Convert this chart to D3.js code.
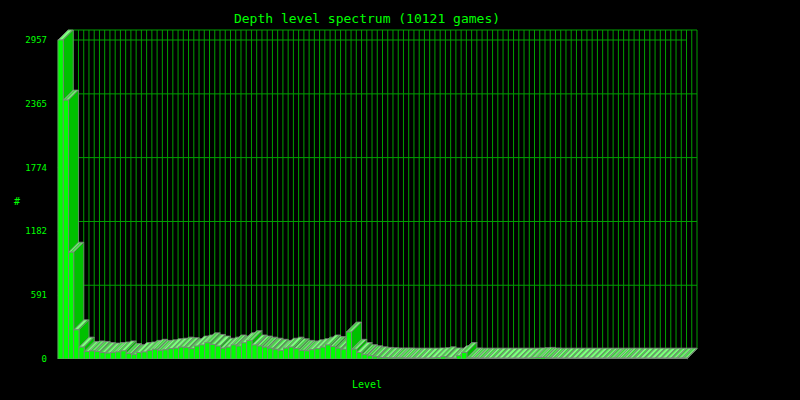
<!DOCTYPE html>
<html lang="en">
<head>
<meta charset="UTF-8">
<title>Depth level spectrum</title>
<script src="https://d3js.org/d3.v7.min.js"></script>
<style>body{margin:0;background:#000}</style>
</head>
<body>
<div id="chart-container"></div>
<script>
const counts = [2957, 2400, 990, 270, 110, 70, 75, 70, 60, 55, 60, 65, 75, 50, 40, 60, 65, 80, 90, 80,
  85, 95, 100, 110, 105, 95, 120, 130, 150, 135, 120, 100, 110, 130, 120, 150, 170, 130, 120, 110,
  100, 90, 80, 100, 110, 95, 80, 75, 85, 95, 110, 130, 115, 100, 90, 250, 90, 60, 40, 30,
  20, 15, 12, 10, 10, 10, 8, 8, 8, 8, 8, 10, 12, 20, 10, 8, 30, 60, 10, 8,
  8, 8, 8, 8, 8, 8, 8, 8, 8, 8, 10, 12, 15, 10, 8, 8, 8, 8, 8, 8,
  8, 8, 8, 8, 8, 8, 8, 8, 8, 8, 8, 8, 8, 8, 8, 8, 8, 8, 8, 8];
const levels = counts.map((d, i) => i);
const yTicks = [0, 591, 1182, 1774, 2365, 2957];

const W = 800, H = 400, dx = 10, dy = 10;
const x = d3.scaleBand().domain(levels).range([58, 687]).padding(0);
const y = d3.scaleLinear().domain([0, 2957]).range([359, 40]);

const svg = d3.select("#chart-container").append("svg")
  .attr("width", W).attr("height", H).style("background", "#000")
  .style("font-family", "'DejaVu Sans Mono', monospace");

const pat = svg.append("defs").append("pattern").attr("id", "hatch")
  .attr("patternUnits", "userSpaceOnUse").attr("width", 4).attr("height", 4)
  .attr("patternTransform", "rotate(45)");
pat.append("rect").attr("width", 4).attr("height", 4).attr("fill", "#80ff80");
pat.append("rect").attr("width", 1.5).attr("height", 4).attr("fill", "#40c040");

const grid = "#00a000";
const g = svg.append("g");
// back wall vertical lines
levels.concat([levels.length]).forEach(i => {
  const xx = (i < levels.length ? x(i) : x.range()[1]) + dx;
  g.append("line").attr("x1", xx).attr("x2", xx).attr("y1", y(2957) - dy).attr("y2", y(0) - dy)
    .attr("stroke", grid);
});
// horizontal lines + left wall diagonals
yTicks.forEach(t => {
  g.append("line").attr("x1", 58 + dx).attr("x2", 687 + dx).attr("y1", y(t) - dy).attr("y2", y(t) - dy).attr("stroke", grid);
  g.append("line").attr("x1", 58).attr("x2", 58 + dx).attr("y1", y(t)).attr("y2", y(t) - dy).attr("stroke", grid);
});
g.append("line").attr("x1", 58).attr("x2", 58).attr("y1", y(2957)).attr("y2", y(0)).attr("stroke", grid);
g.append("line").attr("x1", 687).attr("x2", 697).attr("y1", y(0)).attr("y2", y(0) - dy).attr("stroke", grid);
g.append("line").attr("x1", 58).attr("x2", 687).attr("y1", y(2957)).attr("y2", y(2957)).attr("stroke", grid);

// bars, back to front not needed: draw left to right so side faces overlap correctly
const bars = svg.append("g").selectAll("g").data(counts).join("g");
const bw = x.bandwidth();
bars.append("polygon").attr("fill", "url(#hatch)").attr("stroke", "#808080").attr("stroke-width", 0.8)
  .attr("points", (d, i) => {
    const x0 = x(i), yt = y(d);
    return [[x0, yt], [x0 + dx, yt - dy], [x0 + bw + dx, yt - dy], [x0 + bw, yt]].join(" ");
  });
bars.append("polygon").attr("fill", "#00c000").attr("stroke", "#808080").attr("stroke-width", 0.8)
  .attr("points", (d, i) => {
    const x1 = x(i) + bw, yt = y(d);
    return [[x1, yt], [x1 + dx, yt - dy], [x1 + dx, y(0) - dy], [x1, y(0)]].join(" ");
  });
bars.append("rect").attr("fill", "#00ff00").attr("stroke", "#808080").attr("stroke-width", 0.8)
  .attr("x", (d, i) => x(i)).attr("y", d => y(d)).attr("width", bw).attr("height", d => y(0) - y(d));

// baseline
svg.append("line").attr("x1", 40).attr("x2", 687).attr("y1", 360).attr("y2", 360).attr("stroke", "#000").attr("stroke-width", 2);

// y labels
svg.append("g").selectAll("text").data(yTicks).join("text")
  .attr("x", 47).attr("y", d => y(d) + 3).attr("text-anchor", "end")
  .attr("fill", "#00ff00").style("font-size", "9px").text(d => d);

svg.append("text").attr("x", 367).attr("y", 23).attr("text-anchor", "middle")
  .attr("fill", "#00ff00").style("font-size", "13px").text("Depth level spectrum (10121 games)");
svg.append("text").attr("x", 367).attr("y", 388).attr("text-anchor", "middle")
  .attr("fill", "#00ff00").style("font-size", "10px").text("Level");
svg.append("text").attr("x", 17).attr("y", 205).attr("text-anchor", "middle")
  .attr("fill", "#00ff00").style("font-size", "10px").text("#");
</script>
</body>
</html>
